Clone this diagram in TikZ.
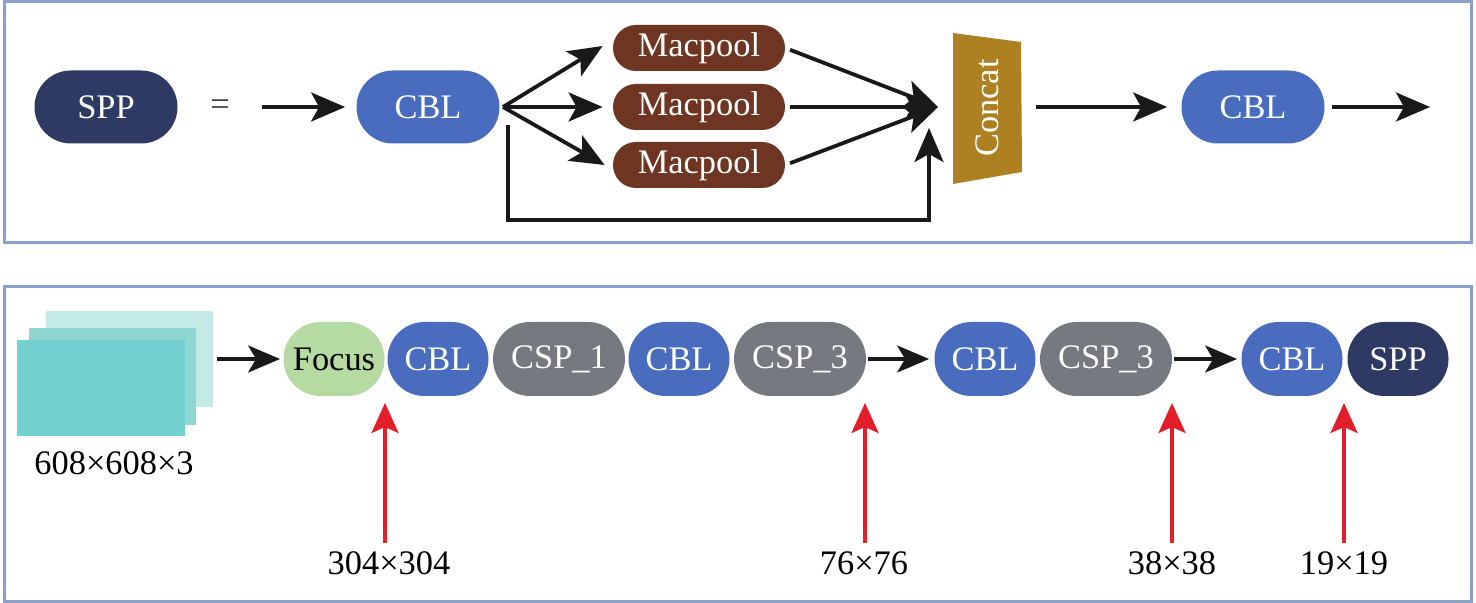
\documentclass[tikz,border=0pt]{standalone}
\usepackage{fontspec}
\setmainfont{Liberation Serif}
\usetikzlibrary{arrows.meta,shapes.misc}
\definecolor{navy}{HTML}{2E3A63}
\definecolor{cblblue}{HTML}{4A6CBF}
\definecolor{macbrown}{HTML}{6E3522}
\definecolor{concatgold}{HTML}{AD8122}
\definecolor{cspgray}{HTML}{767A80}
\definecolor{focusgreen}{HTML}{B5DBA3}
\definecolor{panelblue}{HTML}{8AA0CC}
\definecolor{arrowred}{HTML}{E31E2A}
\definecolor{tealA}{HTML}{C4EAE8}
\definecolor{tealB}{HTML}{8FD6D3}
\definecolor{tealC}{HTML}{73D0D0}
\begin{document}
\begin{tikzpicture}[x=0.5pt,y=-0.5pt,
  txt/.style={font=\fontsize{17.2}{19}\selectfont},
  pill/.style={rounded rectangle, inner sep=0pt, text=white, txt},
  bigpill/.style={pill, minimum width=71.5pt, minimum height=36.5pt},
  macpill/.style={pill, fill=macbrown, minimum width=86pt, minimum height=23pt},
  smallpill/.style={pill, minimum width=50.5pt, minimum height=37pt},
  csppill/.style={pill, fill=cspgray, minimum width=66pt, minimum height=37pt},
  panel/.style={draw=panelblue, line width=1.5pt},
  blkarrow/.style={draw=black!90, line width=1.9pt, -{Stealth[length=17pt,width=14.5pt,inset=4pt]}},
  blkarrowb/.style={draw=black!90, line width=1.6pt, -{Stealth[length=16pt,width=13.5pt,inset=4pt]}},
  redarrow/.style={draw=arrowred, line width=1.8pt, -{Stealth[length=15pt,width=13.5pt,inset=3pt]}, arrowred},
  lbl/.style={txt, text=black, inner sep=1pt},
]
\useasboundingbox (0,0) rectangle (1476,603);
\fill[white] (0,0) rectangle (1476,603);
% panels
\draw[panel] (4,2) rectangle (1471,243);
\draw[panel] (4,287) rectangle (1471,601);

% ---------- top panel ----------
\node[bigpill, fill=navy] (spp) at (106,107) {SPP};
\node[txt, text=black!75] (eq) at (220,108) {=};
\coordinate (inl) at (262,107);
\node[bigpill, fill=cblblue] (cbl1) at (428,107) {CBL};
\node[macpill] (mp1) at (699,48) {Macpool};
\node[macpill] (mp2) at (699,107) {Macpool};
\node[macpill] (mp3) at (699,165) {Macpool};
\coordinate (fork) at (503,107);
\coordinate (conv) at (938,107);
\coordinate (skipS) at (508,125);
\coordinate (skipE) at (929,128);
\coordinate (c1) at (953,33);
\coordinate (c2) at (1021,42);
\coordinate (c3) at (1022,172);
\coordinate (c4) at (953,184);
\fill[concatgold] (c1) -- (c2) -- (c3) -- (c4) -- cycle;
\node[txt, text=white, rotate=90, inner sep=0pt] (concat) at (987,108) {Concat};
\node[bigpill, fill=cblblue] (cbl2) at (1253,107) {CBL};
\coordinate (outr) at (1430,107);

\draw[blkarrow, shorten >=5.5pt] (inl) -- (cbl1.west);
\draw[blkarrow] (fork) -- ([xshift=-5pt,yshift=1pt]mp1.west);
\draw[blkarrow] (fork) -- ([xshift=-5pt]mp2.west);
\draw[blkarrow] (fork) -- ([xshift=-4pt]mp3.west);
\draw[blkarrow, shorten <=2.5pt] (mp1.east) -- (conv);
\draw[blkarrow, shorten <=2.5pt] (mp2.east) -- (conv);
\draw[blkarrow, shorten <=2.5pt] (mp3.east) -- (conv);
\draw[blkarrow] (skipS) -- (skipS |- 0,220) -- (skipE |- 0,220) -- (skipE);
\draw[blkarrow] ([xshift=7pt]c3 |- cbl2.west) -- ([xshift=-7pt]cbl2.west);
\draw[blkarrow, shorten <=3.5pt] (cbl2.east) -- (outr);

% ---------- bottom panel ----------
\fill[tealA] (46,311) rectangle (213,407);
\fill[tealB] (29,328) rectangle (196,425);
\fill[tealC] (17,340) rectangle (185,436);
\coordinate (imgR) at (217,359);
\node[lbl] (in608) at (114,463) {608×608×3};

\node[smallpill, fill=focusgreen, text=black] (focus) at (334,359) {Focus};
\node[smallpill, fill=cblblue] (b1) at (438,359) {CBL};
\node[csppill] (csp1) at (559,359) {CSP\_1};
\node[smallpill, fill=cblblue] (b2) at (679,359) {CBL};
\node[csppill] (csp3a) at (800,359) {CSP\_3};
\node[smallpill, fill=cblblue] (b3) at (985,359) {CBL};
\node[csppill] (csp3b) at (1106,359) {CSP\_3};
\node[smallpill, fill=cblblue] (b4) at (1292,359) {CBL};
\node[smallpill, fill=navy] (sppb) at (1398,359) {SPP};

\draw[blkarrowb, shorten >=1.5pt] (imgR) -- (focus.west);
\draw[blkarrowb, shorten <=1pt, shorten >=2.5pt] (csp3a.east) -- (b3.west);
\draw[blkarrowb, shorten <=1pt, shorten >=2pt] (csp3b.east) -- (b4.west);

\node[lbl, anchor=base] (l1) at (389,574) {304×304};
\node[lbl, anchor=base] (l2) at (864,574) {76×76};
\node[lbl, anchor=base] (l3) at (1172,574) {38×38};
\node[lbl, anchor=base] (l4) at (1344,574) {19×19};
\coordinate (t1) at (385,403);
\coordinate (t2) at (865,403);
\coordinate (t3) at (1172,403);
\coordinate (t4) at (1344,403);
\draw[redarrow, shorten <=3pt] (l1.north -| t1) -- (t1);
\draw[redarrow, shorten <=3pt] (l2.north -| t2) -- (t2);
\draw[redarrow, shorten <=3pt] (l3.north -| t3) -- (t3);
\draw[redarrow, shorten <=3pt] (l4.north -| t4) -- (t4);
\end{tikzpicture}
\end{document}
